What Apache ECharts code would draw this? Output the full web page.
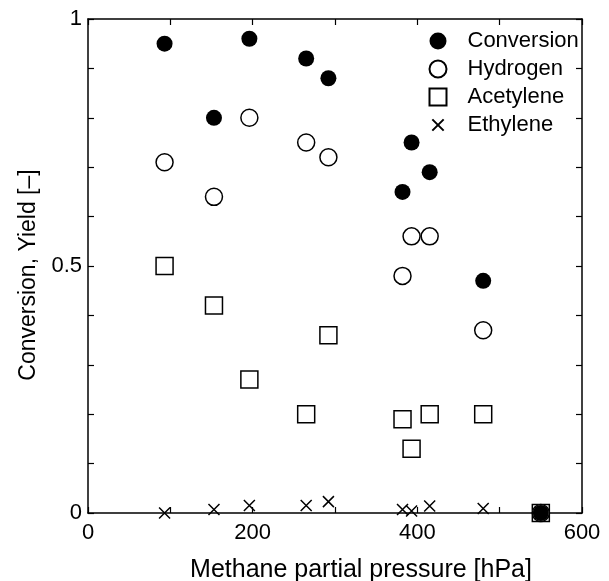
<!DOCTYPE html>
<html><head><meta charset="utf-8">
<script src="https://cdn.jsdelivr.net/npm/echarts@6/dist/echarts.min.js"></script>
<style>html,body{margin:0;padding:0;background:#fff}#c{width:609px;height:581px}</style>
</head><body><div id="c"></div>
<script>
// Data
const conversionX = [93, 153, 196, 265, 292, 382, 393, 415, 480, 550];
const conversionY = [0.95, 0.80, 0.96, 0.92, 0.88, 0.65, 0.75, 0.69, 0.47, 0.0];
const hydrogenX = [93, 153, 196, 265, 292, 382, 393, 415, 480, 550];
const hydrogenY = [0.71, 0.64, 0.80, 0.75, 0.72, 0.48, 0.56, 0.56, 0.37, 0.0];
const acetyleneX = [93, 153, 196, 265, 292, 382, 393, 415, 480, 550];
const acetyleneY = [0.50, 0.42, 0.27, 0.20, 0.36, 0.19, 0.13, 0.20, 0.20, 0.0];
const ethyleneX = [93, 153, 196, 265, 292, 382, 393, 415, 480, 550];
const ethyleneY = [0.0, 0.007, 0.015, 0.015, 0.023, 0.007, 0.004, 0.014, 0.009, 0.0];
const xTickLabels = [0, 200, 400, 600];
const yTickLabels = [0, 0.5, 1];

const pairs = (xs, ys) => xs.map((x, i) => [x, ys[i]]);
const FONT = '"Liberation Sans", Arial, sans-serif';
const crossPath = 'path://M0,0L10,10M10,0L0,10';
const crossLegend = 'path://M-2.5,-2.5M0,0L10,10M10,0L0,10M12.5,12.5';

const chart = echarts.init(document.getElementById('c'), null, {renderer: 'canvas'});
const axisLine = {show: true, onZero: false, lineStyle: {color: '#000', width: 1.5}};
const tickStyle = {show: true, inside: true, length: 6, lineStyle: {color: '#000', width: 1.2}};

chart.setOption({
  animation: false,
  backgroundColor: '#fff',
  grid: {left: 88, top: 19, right: 27, bottom: 68, containLabel: false, outerBoundsMode: 'none'},
  legend: {
    orient: 'vertical', left: 422, top: 25, itemGap: 6, itemWidth: 17, itemHeight: 17,
    textStyle: {fontFamily: FONT, fontSize: 22, color: '#000', padding: [0, 0, 0, 16]},
    data: [
      {name: 'Conversion', icon: 'circle'},
      {name: 'Hydrogen', icon: 'circle'},
      {name: 'Acetylene', icon: 'rect'},
      {name: 'Ethylene', icon: crossLegend}
    ]
  },
  xAxis: [{
    type: 'value', min: 0, max: 600, interval: 100, position: 'bottom',
    axisLine, axisTick: tickStyle, splitLine: {show: false},
    axisLabel: {fontFamily: FONT, fontSize: 22, color: '#000', margin: 9,
      formatter: v => xTickLabels.includes(v) ? String(v) : ''},
    name: 'Methane partial pressure [hPa]', nameLocation: 'middle', nameGap: 45,
    nameTextStyle: {fontFamily: FONT, fontSize: 25, color: '#000', padding: [0, 0, 0, 52]}
  }, {
    type: 'value', min: 0, max: 600, interval: 100, position: 'top',
    axisLine, axisTick: tickStyle, splitLine: {show: false}, axisLabel: {show: false}
  }],
  yAxis: [{
    type: 'value', min: 0, max: 1, interval: 0.1, position: 'left',
    axisLine, axisTick: tickStyle, splitLine: {show: false},
    axisLabel: {fontFamily: FONT, fontSize: 22, color: '#000', margin: 6,
      formatter: v => {
        const m = yTickLabels.find(t => Math.abs(t - v) < 1e-6);
        return m === undefined ? '' : String(m);
      }},
    name: 'Conversion, Yield [\u2013]', nameLocation: 'middle', nameGap: 47,
    nameTextStyle: {fontFamily: FONT, fontSize: 23, color: '#000', padding: [0, 18, 0, 0]}
  }, {
    type: 'value', min: 0, max: 1, interval: 0.1, position: 'right',
    axisLine, axisTick: tickStyle, splitLine: {show: false}, axisLabel: {show: false}
  }],
  series: [
    {name: 'Acetylene', type: 'scatter', symbol: 'rect', symbolSize: 17, z: 2,
      itemStyle: {color: '#fff', borderColor: '#000', borderWidth: 1.5, opacity: 1},
      data: pairs(acetyleneX, acetyleneY)},
    {name: 'Hydrogen', type: 'scatter', symbol: 'circle', symbolSize: 17, z: 3,
      itemStyle: {color: '#fff', borderColor: '#000', borderWidth: 1.5, opacity: 1},
      data: pairs(hydrogenX, hydrogenY)},
    {name: 'Conversion', type: 'scatter', symbol: 'circle', symbolSize: 16, z: 4,
      itemStyle: {color: '#000', borderColor: '#000', borderWidth: 0, opacity: 1},
      data: pairs(conversionX, conversionY)},
    {name: 'Ethylene', type: 'scatter', symbol: crossPath, symbolSize: 11, z: 5,
      itemStyle: {color: 'none', borderColor: '#000', borderWidth: 1.5, opacity: 1},
      data: pairs(ethyleneX, ethyleneY)}
  ]
});
</script></body></html>
